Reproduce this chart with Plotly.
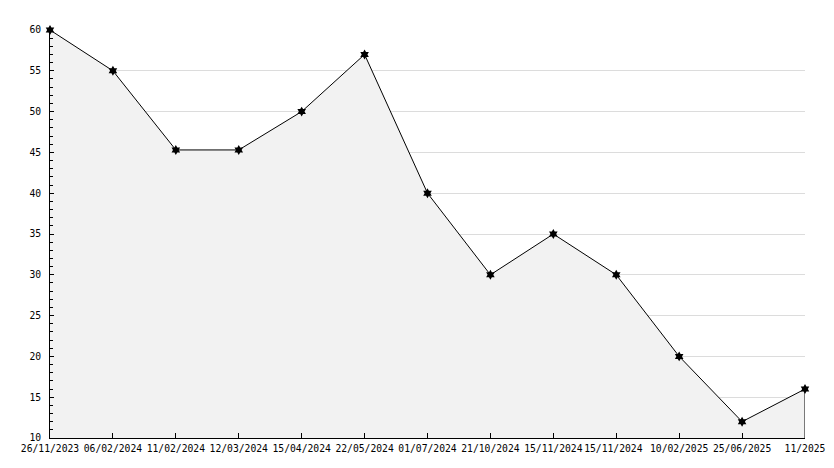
import plotly.graph_objects as go

dates = ["26/11/2023", "06/02/2024", "11/02/2024", "12/03/2024", "15/04/2024",
         "22/05/2024", "01/07/2024", "21/10/2024", "15/11/2024", "15/11/2024 ",
         "10/02/2025", "25/06/2025", "11/2025"]
values = [60, 55, 45.3, 45.3, 50, 57, 40, 30, 35, 30, 20, 12, 16]
y_min, y_max = 10, 60

fig = go.Figure()
# filled area with outline closing down to the axis at the last point
fig.add_trace(go.Scatter(
    x=dates + [dates[-1]], y=values + [y_min],
    mode="lines", line=dict(color="black", width=1),
    fill="tozeroy", fillcolor="#f2f2f2", hoverinfo="skip", showlegend=False))
fig.add_trace(go.Scatter(
    x=dates, y=values, mode="markers", cliponaxis=False,
    marker=dict(symbol="hexagram", size=7.5, color="black",
                line=dict(color="black", width=0)),
    showlegend=False))

fig.update_layout(
    width=826, height=460,
    margin=dict(l=42, r=29, t=22, b=30),
    paper_bgcolor="white", plot_bgcolor="white",
    font=dict(family="DejaVu Sans Mono", size=9.7, color="black"),
)
fig.update_xaxes(
    type="category", range=[0, len(dates) - 1], automargin=False,
    showline=True, linecolor="black", linewidth=1,
    ticks="inside", ticklen=5, tickcolor="black",
    showgrid=False, zeroline=False, tickangle=0, ticklabelstandoff=1,
)
fig.update_yaxes(
    range=[y_min, y_max], dtick=5, tick0=0, automargin=False,
    showline=True, linecolor="black", linewidth=1,
    ticks="inside", ticklen=4, tickcolor="black", ticklabelstandoff=6,
    showgrid=True, gridcolor="#dcdcdc", gridwidth=1, zeroline=False,
    minor=dict(dtick=1, ticks="inside", ticklen=3, tickcolor="black", showgrid=False),
)
fig.write_html("out.html")
